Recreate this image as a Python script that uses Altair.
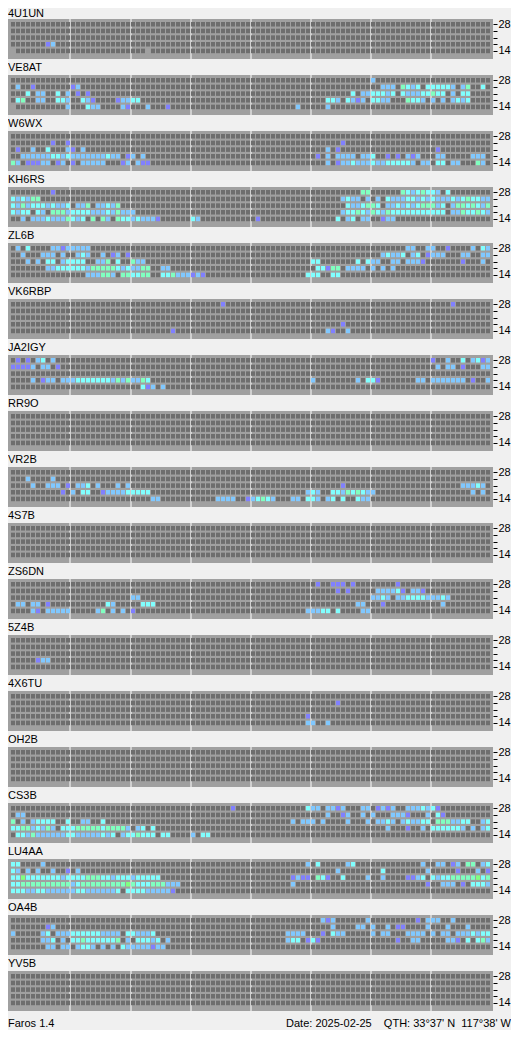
import altair as alt
import pandas as pd

CALLS = ["4U1UN", "VE8AT", "W6WX", "KH6RS", "ZL6B", "VK6RBP", "JA2IGY", "RR9O",
         "VR2B", "4S7B", "ZS6DN", "5Z4B", "4X6TU", "OH2B", "CS3B", "LU4AA",
         "OA4B", "YV5B"]
BAND_LABELS = ["28", "", "", "", "14"]   # rows, top (28 MHz) to bottom (14 MHz)
N_SLOTS = 96                             # 15-minute slots over 24 h

CODES = [".", "x", "b", "l", "c", "g", "G"]
COLORS = ["#6e6e6e", "#a0a0a0", "#8080ff", "#80c8ff", "#80ffff", "#80ffc0", "#80ff80"]

# heard slots per beacon: one string per band row (28 .. 14), tokens "<slot><code>"
P_4U1UN = ["", "", "", "7b 8l", "0x 27x"]
P_VE8AT = [
    "72l",
    "1l 4b 12b 13l 74l 75l 76l 78g 79c 80l 81c 83c 84c 85c 86c 87c 88l 90l 91g 94c",
    "3c 5l 6l 9c 11l 13b 15b 68c 70l 71l 72c 73c 74c 75l 76c 78c 79l 80l 81l 82c 83c 84g 85c 86c 88l 90c 91c",
    "1c 2g 5l 6l 9c 10c 11l 14c 15l 16b 21b 22l 23l 24c 25c 63c 64c 65l 67c 68l 69b 70l 72c 73c 74l 75l 79g 80c 81c 82l 84l 86l 88l 89c 90l 91c",
    "0x 11l 15c 16l 17l 22l 23b 27l 31b 57l 63l",
]
P_W6WX = [
    "",
    "8b 11b 66b",
    "1b 4l 7c 11l 12b 14l 63l 65b 85b",
    "2l 3l 4l 5l 6l 7l 8c 9c 10l 11c 12l 13l 14l 15l 16l 17l 18l 19c 20l 21l 23b 24l 26l 61b 63l 65l 66l 67l 68l 70l 71l 72c 75b 77b 79l 80b 81l 85l 86l 92l 93l 94l",
    "0g 1l 3b 4b 5b 6l 7l 9b 10l 12b 14l 15l 16l 17l 18l 22b 23l 25l 26b 27b 63l 65b 66l 67l 68c 69l 70l 71l 72c 73l 74l 75c 76c 77c 78c 79c 80l 82l 83l 85c 86c 88l 89l 93g 94l",
]
P_KH6RS = [
    "8b 70g 71g 78g 79c 80l 81c 82g 83c 84c 85l 87c",
    "0c 1l 2c 3l 4g 5g 66l 67c 68l 69l 71l 73l 75c 76l 77l 78l 79c 80c 81l 82c 83l 84c 85l 86l 87l 88c 89l 90c 91g 92c 93c 94l 95l",
    "0c 1l 2g 3l 4c 5c 6c 7l 8c 9l 10l 11c 13l 14l 15g 17l 18l 19c 20l 21g 67c 68l 69l 70c 71g 72g 73c 75l 76l 77c 78l 79c 80l 81c 82g 83g 84g 85l 86c 88l 89g 90g 91c 92g 93c 94l 95g",
    "0c 1l 2c 3c 5c 6l 8g 9g 10g 11l 12c 13c 14c 15c 16l 17l 18l 19c 20l 21g 22l 23l 24l 66l 67c 68c 69g 70c 71l 72g 73c 74l 75g 76c 77c 78c 79c 80c 81c 82c 83c 84c 85c 86c 88l 89l 90g 91c 92c 93g 94c 95l",
    "2l 4l 5l 6l 7c 8l 9l 10l 11g 12c 13l 14c 16g 18g 19l 21g 22c 23c 24l 25c 26l 27l 28l 29b 36c 37l 49b 65c 67l 68c 70l 71l 74b 75l 76l",
]
P_ZL6B = [
    "1l 3c 8l 9l 10b 11l 12l 13l 14l 15l 79l 80l 83l 84l 87b 92l 94c 95l",
    "2l 6l 7l 8l 10l 13l 14c 15l 18l 20b 21l 23b 74l 75c 76l 77l 78c 80l 81c 83b 84l 85l 86l 90l 91l 94l 95l",
    "3l 5l 7c 8c 10l 11c 12c 13c 14c 17l 18l 19g 21c 24g 25l 26l 60c 61c 69c 71c 72l 73l 76l 77l 79l 80l 81l 82b 90b 94l",
    "7l 8l 9c 10c 11c 12c 13c 14c 15l 16g 17g 18g 19g 20g 21c 22l 23c 24l 25l 26g 27g 30l 31l 61c 62c 63b 64g 65g 67l 68l 69l 70l 72l 74l 76l",
    "15l 16l 17l 18g 19g 20l 22g 23g 24c 25c 26g 27g 30c 31c 32g 33l 34l 35l 36b 37l 38b 59c 60c 61c 64c 65c",
]
P_VK6RBP = ["42b 88b", "", "", "66b", "32b 63l 64b 67l"]
P_JA2IGY = [
    "1b 3b 5l 6c 8l 84b 87l 90c 92l 93c 94b 95l",
    "0b 1b 2b 3b 4l 6l 7l 9b 85l 87l 88l 90b 94l 95l",
    "",
    "4l 6b 7l 8l 10l 11l 12l 13c 14c 15c 16c 17c 18c 19c 20l 21g 22l 23g 24l 25l 26g 27c 60l 69l 71c 72c 73b 81l 82l 84l 85l 86l 87l 88l 89l 90l 92b 95l",
    "26c 27b 28l 30l",
]
P_RR9O = ["", "", "", "", ""]
P_VR2B = [
    "",
    "3l 8l",
    "4l 7l 8l 9l 11b 13l 14l 15c 17l 21l 23l 66b 90l 91l 92l 93c 94l",
    "10b 12l 14c 15c 18b 19l 20l 21l 22l 23c 24c 25c 26c 27c 59l 60c 61l 64c 65c 66l 67g 68c 69g 70c 71l 72l 92l 94l",
    "28l 29l 41l 42l 43l 44l 47b 48l 49c 50g 51c 52l 56l 57l 59c 60c 61l 63l 64c 66c 69c 70l 71l",
]
P_4S7B = ["", "", "", "", ""]
P_ZS6DN = [
    "61b 64b 65b 66b 68b 77b",
    "65b 67b 73l 74l 75l 76l 77c 78b 80l 81l 82b",
    "24l 25l 72l 73l 74c 75l 77l 78l 79c 80c 81c 82c 83l 84l 85l 86c 87l",
    "1l 2l 4l 5l 7b 19c 20l 26c 27c 28c 69l 70l 74b 86l",
    "4l 5b 7l 8l 9l 10l 11l 17l 18g 20l 22l 24b 59l 60l 61l 62c 63c 65c 70l 71l",
]
P_5Z4B = ["", "", "", "5b 6l 7l", ""]
P_4X6TU = ["", "65b", "", "59b", "59l 60l 63l"]
P_OH2B = ["", "", "", "", ""]
P_CS3B = [
    "44b 59c 60l 61l 63l 64l 65b 66l 70l 71l 73b 74l 75b 76l 79l 80l 81l 82c 83l 84c 85b",
    "1l 2l 63l 66b 67l 70l 72l 76l 77l 78l 79b 83l 85c 86b",
    "0g 2l 4l 5c 6c 7c 8c 11c 14l 15l 18c 56l 58l 59l 60l 62l 67l 71l 73l 74l 75c 76l 78l 79c 80l 81l 82c 83c 85g 86g 87g 88l 89l 90c 91c 94l 95c",
    "0c 1c 2g 3g 4l 5c 6l 7g 8l 10c 11c 12c 13g 14g 15g 16g 17g 18c 19g 20g 21g 22g 23l 25l 26c 28c 75l 79b 82l 84c 85c 86c 87c 88c 89c 90l 92l 94l 95c",
    "1c 2c 3l 4g 5l 6l 7l 8l 9l 10l 11c 12c 13l 14l 15l 16l 17l 18c 19l 20c 22l 23c 24c 25g 26c 27c 28c 30c 31c 36l 38c 39c",
]
P_LU4AA = [
    "0c 1c 6l 59l 61c 67l 68c 82l 85l 86l 88b 89l 91g 92g 94l 95c",
    "0c 1l 3l 5l 8l 11b 13l 65l 74c 83l 89b 93l 95b",
    "0c 1c 2G 3c 4c 5c 6c 7c 8c 9c 10l 11c 12c 13c 14c 15g 16g 17g 18c 19c 20l 21c 22c 23c 24l 25c 26c 27c 28c 29c 56b 57l 58b 59b 61g 62c 63b 66c 71l 74l 79b 80b 81l 82c 84c 85l 86c 87c 88g 89g 90g 91g 92g 93G 94c 95g",
    "0c 1c 2g 3g 4g 5g 6g 7g 8g 9g 10g 11g 12l 13c 14g 15g 16g 17g 18g 19g 20g 21g 22g 23G 24g 25c 26c 27c 28g 29g 30g 31l 32l 33l 56l 83b 86l 87l 88l 90b 92c 93c 94c 95l",
    "0c 1c 2c 3l 4l 5c 6c 7l 8l 9l 10l 11l 12l 13c 14c 15l 16l 17l 18l 19l 20l 21c 23c 24c 25c 26c 27l 28l 29l 30l 31l 32b",
]
P_OA4B = [
    "62l 63b 64l 71l 81b 83l 84l 85l 88l",
    "7b 8l 64l 69l 70l 72l 75l 77b 78b 83l 87l 91l",
    "0l 6l 7c 9l 10l 11l 12c 13c 14c 15c 16c 17c 18l 19l 20l 21l 23c 24c 25l 26l 27l 28c 55l 56l 57l 58l 62b 64c 65l 66l 72l 74l 75l 79l 80l 81l 82l 84l 86l 87l 89l 90l 91l 92c 93l 94c 95c",
    "6l 7l 8c 10l 12c 13c 14g 15c 16c 17c 18c 19c 20c 21g 23l 25c 26c 27c 28l 29c 31l 55l 56c 57c 59b 60c 61b 77b 80l 81l 87l 88l 89b 91c 93c 94g 95l",
    "7l 8l 10l 11l 13l 14c 15c 16l 18l 20l 22c 23l 24l 25l 26l 27l 28b 29l 30l",
]
P_YV5B = ["", "", "", "", ""]

PANELS = [P_4U1UN, P_VE8AT, P_W6WX, P_KH6RS, P_ZL6B, P_VK6RBP, P_JA2IGY, P_RR9O,
          P_VR2B, P_4S7B, P_ZS6DN, P_5Z4B, P_4X6TU, P_OH2B, P_CS3B, P_LU4AA,
          P_OA4B, P_YV5B]

NB = "\u00a0"
FOOTER_LEFT = "Faros 1.4"
FOOTER_RIGHT = ("Date: 2025-02-25" + NB * 4 + "QTH: 33\u00b037' N" + NB * 2 + "117\u00b038' W")

records = []
for call, rows in zip(CALLS, PANELS):
    for r, spec in enumerate(rows):
        heard = {}
        for tok in spec.split():
            heard[int(tok[:-1])] = tok[-1]
        for s in range(N_SLOTS):
            records.append({"call": call, "row": r, "slot": s, "code": heard.get(s, ".")})
df = pd.DataFrame(records)

FONT = "Liberation Sans"
W, H = 485, 40

xscale = alt.Scale(domain=[-0.6, 96.4], nice=False, zero=False)
yscale = alt.Scale(domain=[-0.45, 5.55], nice=False, zero=False, reverse=True)
xaxis = alt.Axis(values=[11.9, 23.9, 35.9, 47.9, 59.9, 71.9, 83.9], grid=True,
                 gridColor="#ffffff", gridWidth=1, gridOpacity=1, labels=False,
                 ticks=False, domain=False, title=None, translate=0)
yaxis = alt.Axis(orient="right", values=[0.34, 1.34, 2.34, 3.34, 4.34],
                 labelExpr="datum.value < 0.5 ? '28' : (datum.value > 4 ? '14' : '')",
                 grid=False, domain=False, ticks=True, tickSize=4, tickColor="#000000",
                 tickWidth=1, labelPadding=1, labelFont=FONT, labelFontSize=11,
                 labelColor="#000000", title=None)


def panel(call, offset):
    return (
        alt.Chart(df)
        .transform_filter(alt.datum.call == call)
        .transform_calculate(slot2="datum.slot + 0.8", row2="datum.row + 0.68")
        .mark_rect(strokeWidth=0)
        .encode(
            x=alt.X("slot:Q", scale=xscale, axis=xaxis),
            x2="slot2:Q",
            y=alt.Y("row:Q", scale=yscale, axis=yaxis),
            y2="row2:Q",
            color=alt.Color("code:N", scale=alt.Scale(domain=CODES, range=COLORS), legend=None),
        )
        .properties(
            width=W, height=H,
            title=alt.TitleParams(text=call, anchor="start", fontSize=11, font=FONT,
                                  fontWeight="normal", color="#000000", offset=offset),
            view=alt.ViewBackground(fill="#a0a0a0", stroke=None),
        )
    )


panels = [panel(c, -1 if i == 0 else 1) for i, c in enumerate(CALLS)]

foot_l = alt.Chart(pd.DataFrame({"t": [FOOTER_LEFT]})).mark_text(
    align="left", baseline="alphabetic", fontSize=11, font=FONT, color="#000000"
).encode(text="t:N", x=alt.value(0), y=alt.value(13))
foot_r = alt.Chart(pd.DataFrame({"t": [FOOTER_RIGHT]})).mark_text(
    align="right", baseline="alphabetic", fontSize=11, font=FONT, color="#000000"
).encode(text="t:N", x=alt.value(503), y=alt.value(13))
footer = alt.layer(foot_l, foot_r).properties(
    width=503, height=16, view=alt.ViewBackground(fill=None, stroke=None)
)

chart = (
    alt.vconcat(*panels, footer, spacing=3)
    .properties(background="#f0f0f0", padding=0)
    .configure_view(stroke=None)
)

chart.save("out.html", embed_options={"renderer": "svg", "actions": False})
